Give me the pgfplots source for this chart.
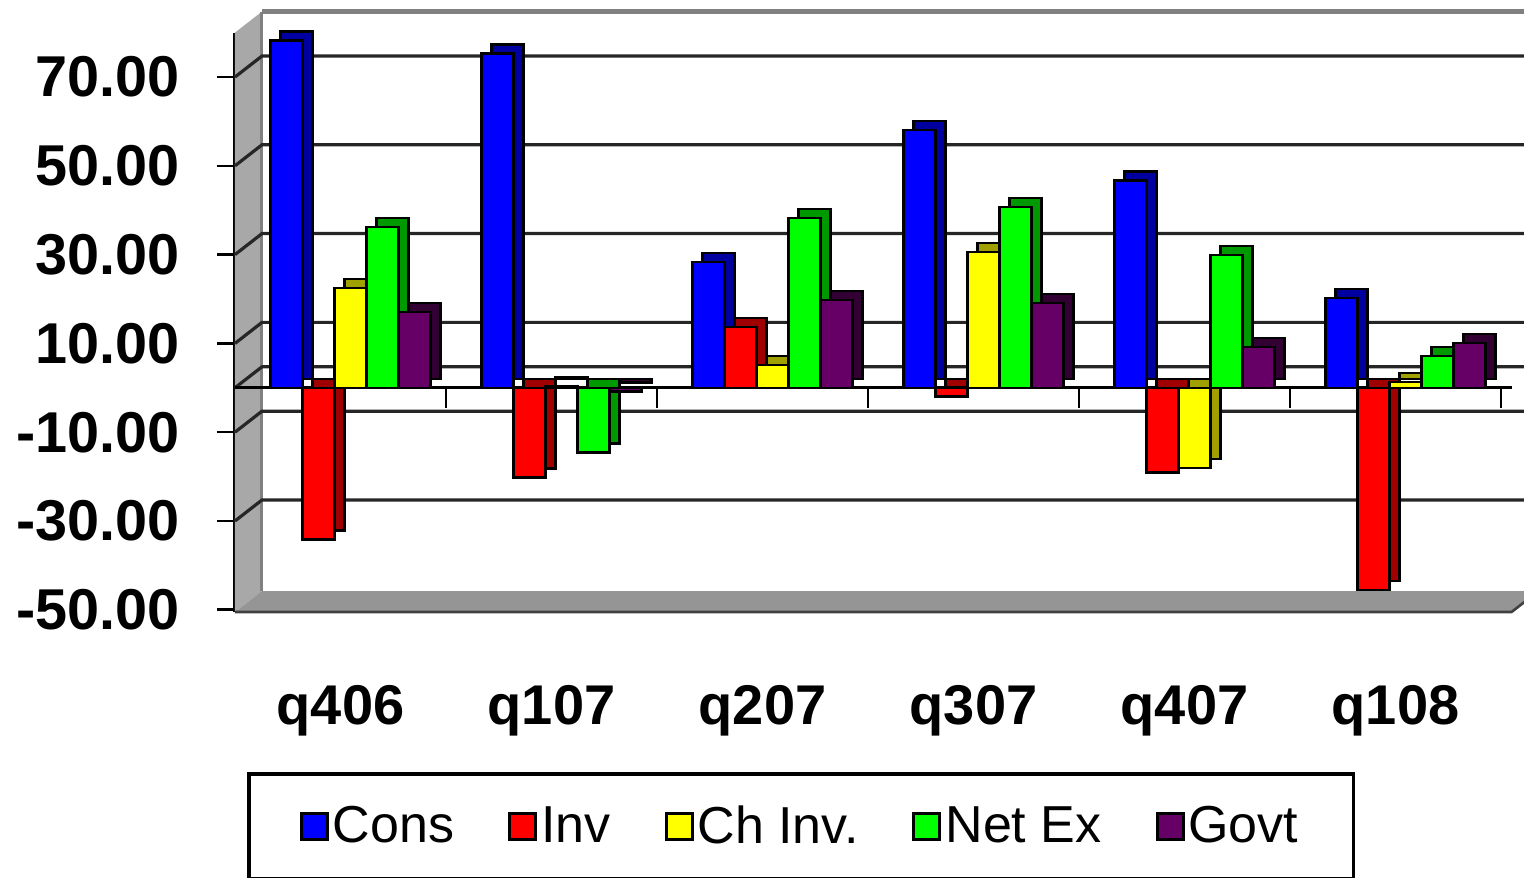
\documentclass[border=0pt]{standalone}
\usepackage{fontspec}
\setmainfont{Liberation Sans}
\usepackage{pgfplots}
\usepackage{pgfplotstable}
\pgfplotsset{compat=1.18}
\definecolor{cblue}{HTML}{0000FF}\definecolor{dblue}{HTML}{0000A0}
\definecolor{cred}{HTML}{FF0000}\definecolor{dred}{HTML}{A00000}
\definecolor{cyel}{HTML}{FFFF00}\definecolor{dyel}{HTML}{A0A000}
\definecolor{cgrn}{HTML}{00FF00}\definecolor{dgrn}{HTML}{009900}
\definecolor{cpur}{HTML}{660066}\definecolor{dpur}{HTML}{330033}
\definecolor{wallgray}{HTML}{A8A8A8}\definecolor{floorgray}{HTML}{959595}
\pgfplotstableread{
x cons inv chinv netex govt
0 78.2 -34.2 22.5 36.2 17.1
1 75.3 -20.2 0.4 -14.6 -0.8
2 28.3 13.7 5.2 38.2 19.8
3 58.0 -2.0 30.6 40.7 19.1
4 46.7 -19.1 -18.0 29.9 9.2
5 20.2 -45.6 1.3 7.2 10.1
}\datatable
\begin{document}
\begin{tikzpicture}
\begin{axis}[
  scale only axis, width=633pt, height=289.7pt,
  xmin=-0.5, xmax=5.5, ymin=-50.5, ymax=80,
  clip=false,
  axis x line*=bottom, axis y line*=left,
  x axis line style={draw=none},
  y axis line style={line width=1.8pt, black},
  xtick={0,...,5}, xticklabels={q406,q107,q207,q307,q407,q108},
  xtick style={draw=none},
  ytick={-50,-30,...,70},
  ytick style={line width=1.3pt, black},
  tick align=outside, major tick length=9pt,
  yticklabel={\pgfmathprintnumber[fixed,fixed zerofill,precision=2]{\tick}},
  /pgf/number format/assume math mode=true,
  yticklabel style={font=\fontsize{28.8}{30}\selectfont\bfseries, xshift=-15pt},
  xticklabel style={font=\fontsize{28}{30}\selectfont\bfseries, yshift=-24pt},
  legend columns=5,
  legend style={at={(0.0095,-0.276)}, anchor=north west, draw=black, line width=1.8pt,
    inner xsep=25.5pt, inner ysep=14pt, font=\fontsize{26}{28}\selectfont,
    nodes={inner xsep=2pt},
    /tikz/every even column/.append style={column sep=25pt}},
  legend image code/.code={\draw[#1, line width=1.5pt, draw=black] (0pt,-6.5pt) rectangle (13pt,6.5pt);},
  every axis plot/.append style={ybar, bar width=16pt, draw=black, line width=1.2pt},
]
% walls and floor
\fill[wallgray] (axis cs:-0.5,-50.5) -- (axis cs:-0.5,80) -- ++(13.5pt,10.5pt) -- ([xshift=13.5pt,yshift=10.5pt]axis cs:-0.5,-50.5) -- cycle;
\fill[floorgray] (axis cs:-0.5,-50.5) -- (axis cs:5.55,-50.5) -- ([xshift=13.5pt,yshift=10.5pt]axis cs:5.55,-50.5) -- ([xshift=13.5pt,yshift=10.5pt]axis cs:-0.5,-50.5) -- cycle;
\draw[black!75, line width=1.3pt] (axis cs:-0.5,-50.5) -- (axis cs:5.55,-50.5) -- ++(13.5pt,10.5pt);
\draw[gray, line width=2.5pt] ([xshift=13.5pt,yshift=10.5pt]axis cs:-0.5,80) -- ([xshift=13.5pt,yshift=10.5pt]axis cs:5.55,80);
\draw[gray, line width=1.5pt] ([xshift=13.5pt,yshift=10.5pt]axis cs:-0.5,-50.5) -- ([xshift=13.5pt,yshift=10.5pt]axis cs:-0.5,80);
\pgfplotsinvokeforeach{-30,-10,0,10,30,50,70}{
  \draw[black!85, line width=1.6pt] (axis cs:-0.5,#1) -- ++(13.5pt,10.5pt) -- ([xshift=13.5pt,yshift=10.5pt]axis cs:5.55,#1);
}
% category axis at zero
\draw[black, line width=1.6pt] (axis cs:-0.5,0) -- (axis cs:5.55,0);
\pgfplotsinvokeforeach{0.5,1.5,2.5,3.5,4.5,5.5}{
  \draw[black, line width=1.2pt] (axis cs:#1,0) -- ([yshift=-10pt]axis cs:#1,0);
}
% bars: dark depth copy, then front face
\addplot[fill=dblue, bar shift=-27pt, xshift=5pt, yshift=4.5pt, forget plot] table[x=x,y=cons]{\datatable};
\addplot[fill=cblue, bar shift=-27pt] table[x=x,y=cons]{\datatable};
\addlegendentry{Cons}
\addplot[fill=dred, bar shift=-11pt, xshift=5pt, yshift=4.5pt, forget plot] table[x=x,y=inv]{\datatable};
\addplot[fill=cred, bar shift=-11pt] table[x=x,y=inv]{\datatable};
\addlegendentry{Inv}
\addplot[fill=dyel, bar shift=5pt, xshift=5pt, yshift=4.5pt, forget plot] table[x=x,y=chinv]{\datatable};
\addplot[fill=cyel, bar shift=5pt] table[x=x,y=chinv]{\datatable};
\addlegendentry{Ch Inv.}
\addplot[fill=dgrn, bar shift=21pt, xshift=5pt, yshift=4.5pt, forget plot] table[x=x,y=netex]{\datatable};
\addplot[fill=cgrn, bar shift=21pt] table[x=x,y=netex]{\datatable};
\addlegendentry{Net Ex}
\addplot[fill=dpur, bar shift=37pt, xshift=5pt, yshift=4.5pt, forget plot] table[x=x,y=govt]{\datatable};
\addplot[fill=cpur, bar shift=37pt] table[x=x,y=govt]{\datatable};
\addlegendentry{Govt}
\end{axis}
\pgfresetboundingbox
\path (-117.5pt,-132.5pt) rectangle (644.5pt,306pt);
\end{tikzpicture}
\end{document}
